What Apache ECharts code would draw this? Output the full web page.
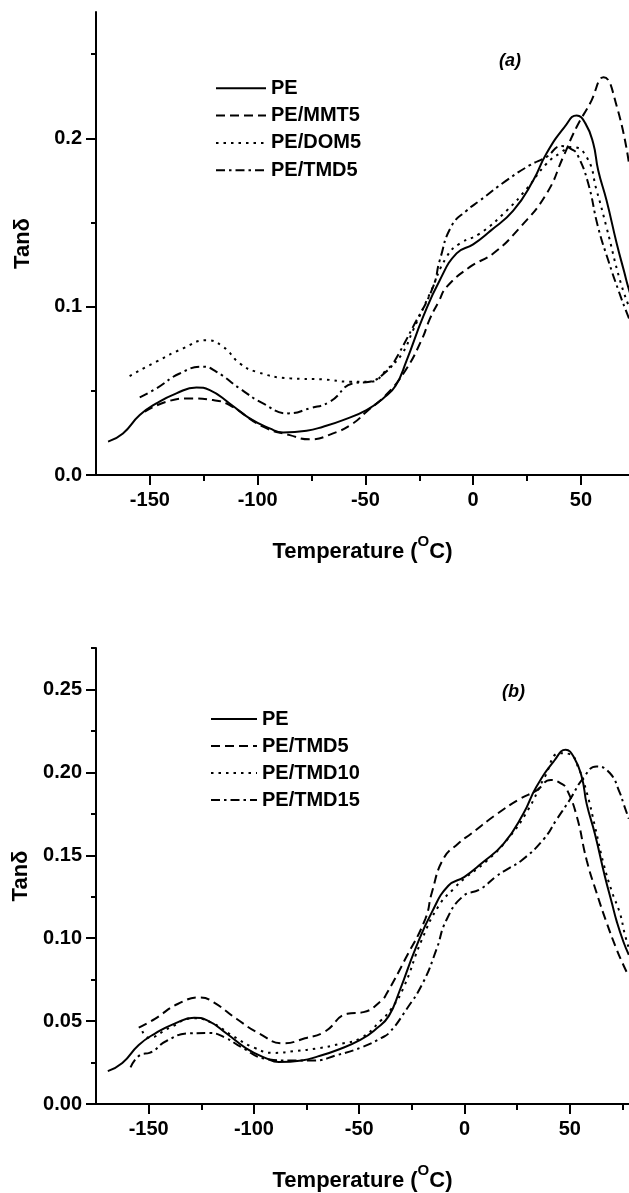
<!DOCTYPE html>
<html>
<head>
<meta charset="utf-8">
<script src="https://cdn.jsdelivr.net/npm/echarts@6/dist/echarts.min.js"></script>
<style>
html,body{margin:0;padding:0;background:#fff;}
#c{width:629px;height:1193px;}
</style>
</head>
<body>
<div id="c"></div>
<script>
// ---- data (temperature in °C, tan delta) ----
const peX = [-169.4,-162.5,-154.7,-147,-137.7,-128.4,-122.2,-113,-103.7,-94.4,-88.2,-77.3,-69.6,-60.4,-49.5,-41.8,-36,-30.9,-23.2,-15.5,-7.7,0,8,18.6,27.9,34,42.6,48,52,55.7,58,61.9,66.6,70,72.3,75.4,78];
const peY = [0.0198,0.0247,0.0356,0.0425,0.0485,0.052,0.0504,0.0425,0.0336,0.0277,0.0253,0.0263,0.0287,0.0326,0.0386,0.0455,0.053,0.068,0.094,0.1157,0.1316,0.137,0.145,0.157,0.175,0.191,0.207,0.2136,0.209,0.197,0.181,0.163,0.1375,0.121,0.11,0.098,0.09];

const mmt5X = [-152.4,-142.3,-131.5,-120.7,-113,-97.5,-85.1,-75.8,-65,-55.7,-49.5,-40.7,-31.5,-24,-20,-16,-12.3,-1.5,9.3,21.7,34,41.8,48,54.2,60.5,66.7,72.3];
const mmt5Y = [0.0376,0.0435,0.0455,0.0445,0.0415,0.0287,0.0237,0.0212,0.0247,0.0307,0.0376,0.0472,0.062,0.08,0.093,0.103,0.1117,0.1236,0.1316,0.147,0.167,0.189,0.2067,0.2206,0.2363,0.2186,0.185];

const dom5X = [-159.4,-147,-134.6,-123.8,-116,-108.3,-100.6,-85.1,-69.6,-57.2,-48,-39.5,-33,-27.9,-20,-12.3,-6.2,3.1,15.5,24.8,34.1,40.2,45.7,52.6,57.3,61.9,68.1,72.3];
const dom5Y = [0.0588,0.0673,0.0752,0.0801,0.0761,0.0663,0.0613,0.0574,0.0568,0.0554,0.0554,0.0633,0.072,0.086,0.108,0.1296,0.1375,0.1434,0.157,0.170,0.185,0.191,0.1948,0.189,0.169,0.147,0.1157,0.10];

const tmd5X = [-154.7,-147,-136.2,-125.3,-119.1,-108.3,-97.5,-85.9,-75.8,-66.5,-55.7,-48,-39.5,-37.1,-27.9,-18.6,-15.5,-10,-3.1,3.1,15.5,26.3,34.1,41,46.4,48.5,53.2,58,62.7,67.5,72.2,75,78];
const tmd5Y = [0.0461,0.0514,0.0603,0.0643,0.0613,0.0514,0.0425,0.0366,0.0396,0.0435,0.0544,0.0554,0.0623,0.0663,0.088,0.1117,0.1276,0.148,0.157,0.163,0.175,0.184,0.189,0.1954,0.1929,0.19,0.174,0.147,0.1274,0.1093,0.0933,0.085,0.077];

const tmd10X = [-153,-150,-140,-128.7,-120,-110,-100,-90.7,-80,-70,-60,-48.9,-40,-35,-29,-20.3,-12,-5,0,10,20,30,38,45.3,50,54,58,62,66,70,73.8,76,78];
const tmd10Y = [0.044,0.040,0.046,0.0517,0.049,0.041,0.034,0.0308,0.032,0.0335,0.036,0.040,0.050,0.057,0.070,0.099,0.12,0.13,0.136,0.146,0.159,0.177,0.197,0.2116,0.211,0.203,0.188,0.167,0.145,0.128,0.115,0.103,0.094];

const tmd15X = [-158.6,-153.4,-149.6,-141.6,-130.6,-121.1,-113.5,-105.9,-94.5,-83.1,-71.7,-60.3,-48.9,-39.4,-35.5,-27.6,-19.7,-13.3,-8.6,-0.7,7.3,15.2,20,27.2,37.4,43.7,50,56.4,62.7,69,73.8,75.4,78];
const tmd15Y = [0.0221,0.030,0.0308,0.038,0.0426,0.0428,0.0399,0.0342,0.0273,0.0262,0.0262,0.0296,0.0342,0.0399,0.0433,0.057,0.0732,0.0933,0.111,0.1253,0.1294,0.1374,0.1414,0.147,0.1594,0.1715,0.1835,0.1966,0.2036,0.1996,0.1875,0.1815,0.172];

const xMajorTicks = [-150,-100,-50,0,50];
const xMinorTicksA = [-125,-75,-25,25];
const xMinorTicksB = [-125,-75,-25,25,75];
const yMajorTicksA = [0,0.1,0.2];
const yMinorTicksA = [0.05,0.15,0.25];
const yMajorTicksB = [0,0.05,0.10,0.15,0.20,0.25];
const yMinorTicksB = [0.025,0.075,0.125,0.175,0.225,0.275];

const legendA = ['PE','PE/MMT5','PE/DOM5','PE/TMD5'];
const legendB = ['PE','PE/TMD5','PE/TMD10','PE/TMD15'];

// ---- helpers ----
const FONT = "'Liberation Sans', Arial, Helvetica, sans-serif";
const zip = (xs, ys) => xs.map((x, i) => [x, ys[i]]);
const SOLID = 'solid', DASH = [9,5], DOT = [2.5,5], DASHDOT = [9,4,2.5,4];

function mainX(grid, max, minor) {
  return [{
    gridIndex: grid, type: 'value', min: -175, max: max,
    axisLine: {onZero: false, lineStyle: {color: '#000', width: 2}},
    axisTick: {customValues: xMajorTicks, length: 10, lineStyle: {color: '#000', width: 2}},
    axisLabel: {customValues: xMajorTicks, fontSize: 20, fontWeight: 'bold', color: '#000', fontFamily: FONT, margin: 15},
    splitLine: {show: false},
    name: '{t|Temperature (}{sup|O}{t|C)}',
    nameLocation: 'middle', nameGap: 59,
    nameTextStyle: {
      fontFamily: FONT, fontWeight: 'bold', color: '#000',
      rich: {
        t: {fontSize: 22, fontWeight: 'bold', fontFamily: FONT, color: '#000', lineHeight: 29, verticalAlign: 'bottom'},
        sup: {fontSize: 15, fontWeight: 'bold', fontFamily: FONT, color: '#000', lineHeight: 15, verticalAlign: 'top'}
      }
    }
  }, {
    gridIndex: grid, type: 'value', min: -175, max: max, position: 'bottom',
    axisLine: {show: false, onZero: false},
    axisTick: {customValues: minor, length: 6, lineStyle: {color: '#000', width: 2}},
    axisLabel: {show: false}, splitLine: {show: false}
  }];
}
function mainY(grid, majors, minors, digits) {
  return [{
    gridIndex: grid, type: 'value', min: 0, max: 0.275, position: 'left',
    axisLine: {onZero: false, lineStyle: {color: '#000', width: 2}},
    axisTick: {customValues: majors, length: 10, lineStyle: {color: '#000', width: 2}},
    axisLabel: {customValues: majors, formatter: v => v.toFixed(digits), fontSize: 20, fontWeight: 'bold', color: '#000', fontFamily: FONT, margin: 14},
    splitLine: {show: false},
    name: 'Tanδ', nameLocation: 'middle', nameGap: 62,
    nameTextStyle: {fontSize: 22, fontWeight: 'bold', color: '#000', fontFamily: FONT}
  }, {
    gridIndex: grid, type: 'value', min: 0, max: 0.275, position: 'left',
    axisLine: {show: false, onZero: false},
    axisTick: {customValues: minors, length: 5, lineStyle: {color: '#000', width: 2}},
    axisLabel: {show: false}, splitLine: {show: false}
  }];
}
function line(name, xs, ys, type, xi, yi) {
  return {
    name: name, type: 'line', data: zip(xs, ys), xAxisIndex: xi, yAxisIndex: yi,
    symbol: 'none', showSymbol: false, smooth: 0.5, clip: true,
    lineStyle: {color: '#000', width: 2, type: type}, itemStyle: {color: '#000'},
    emphasis: {disabled: true}, animation: false
  };
}
function legend(names, left, top, itemW, gap) {
  return {
    orient: 'vertical', left: left, top: top, padding: 0, itemGap: gap,
    itemWidth: itemW, itemHeight: 14, selectedMode: false,
    data: names, formatter: n => n.trim(),
    itemStyle: {opacity: 0, borderWidth: 0},
    textStyle: {fontSize: 20, fontWeight: 'bold', color: '#000', fontFamily: FONT, lineHeight: 20}
  };
}

const chart = echarts.init(document.getElementById('c'), null, {renderer: 'canvas'});
const xA = mainX(0, 72.3, xMinorTicksA), xB = mainX(1, 78.1, xMinorTicksB);
const yA = mainY(0, yMajorTicksA, yMinorTicksA, 1), yB = mainY(1, yMajorTicksB, yMinorTicksB, 2);

chart.setOption({
  backgroundColor: '#fff',
  animation: false,
  title: [
    {text: '(a)', left: 499, top: 52, padding: 0, textStyle: {fontSize: 18, fontWeight: 'bold', fontStyle: 'italic', color: '#000', fontFamily: FONT}},
    {text: '(b)', left: 502, top: 683, padding: 0, textStyle: {fontSize: 18, fontWeight: 'bold', fontStyle: 'italic', color: '#000', fontFamily: FONT}}
  ],
  grid: [
    {left: 96, top: 12, width: 533, height: 463},
    {left: 96, top: 648, width: 533, height: 457}
  ],
  xAxis: [xA[0], xA[1], xB[0], xB[1]],
  yAxis: [yA[0], yA[1], yB[0], yB[1]],
  legend: [
    legend(legendA, 215, 78.3, 50, 7.3),
    legend(legendB.map(n => n + ' '), 210, 709, 46, 7)
  ],
  series: [
    line('PE', peX, peY, SOLID, 0, 0),
    line('PE/MMT5', mmt5X, mmt5Y, DASH, 0, 0),
    line('PE/DOM5', dom5X, dom5Y, DOT, 0, 0),
    line('PE/TMD5', tmd5X, tmd5Y, DASHDOT, 0, 0),
    line('PE ', peX, peY, SOLID, 2, 2),
    line('PE/TMD5 ', tmd5X, tmd5Y, DASH, 2, 2),
    line('PE/TMD10 ', tmd10X, tmd10Y, DOT, 2, 2),
    line('PE/TMD15 ', tmd15X, tmd15Y, DASHDOT, 2, 2)
  ]
});
</script>
</body>
</html>
